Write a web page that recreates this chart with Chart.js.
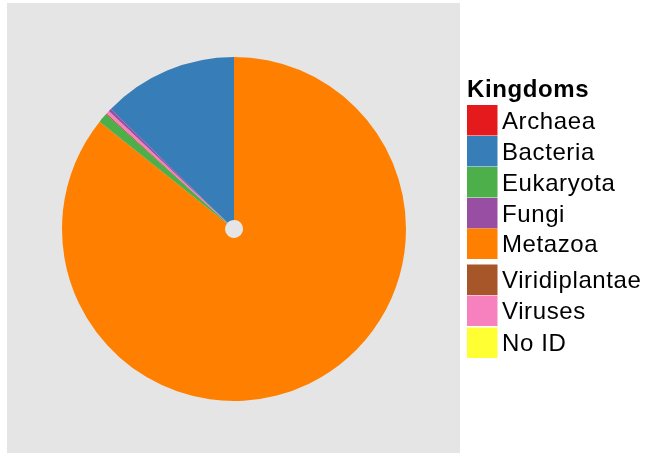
<!DOCTYPE html>
<html>
<head>
<meta charset="utf-8">
<script src="https://cdn.jsdelivr.net/npm/chart.js@4/dist/chart.umd.min.js"></script>
<style>
  html, body { margin: 0; padding: 0; background: #ffffff; }
  #wrap { width: 645px; height: 453px; }
</style>
</head>
<body>
<div id="wrap"><canvas id="pie" width="645" height="453"></canvas></div>
<script>
// Kingdom categories in legend order
const kingdoms = ['Archaea', 'Bacteria', 'Eukaryota', 'Fungi', 'Metazoa', 'Viridiplantae', 'Viruses', 'No ID'];
// Share of assigned reads per kingdom (%)
const shares = [0.02, 12.7, 0.9, 0.25, 85.73, 0.1, 0.3, 0];
// Set1 palette, one per kingdom
const colours = ['#E41A1C', '#377EB8', '#4DAF4A', '#984EA3', '#FF7F00', '#A65628', '#F781BF', '#FFFF33'];
// Order the slices are stacked clockwise from twelve o'clock
const sliceOrder = ['Metazoa', 'Eukaryota', 'Viridiplantae', 'Viruses', 'Fungi', 'Archaea', 'Bacteria', 'No ID'];
const legendTitle = 'Kingdoms';

const idx = sliceOrder.map(k => kingdoms.indexOf(k));

// Grey plotting panel behind the pie
const panel = {
  id: 'panel',
  beforeDraw(chart) {
    const ctx = chart.ctx;
    ctx.save();
    ctx.fillStyle = '#ffffff';
    ctx.fillRect(0, 0, chart.width, chart.height);
    ctx.fillStyle = '#E5E5E5';
    ctx.fillRect(7, 3, 453, 450);
    ctx.restore();
  }
};

// Key legend on the right
const keyLegend = {
  id: 'keyLegend',
  afterDraw(chart) {
    const ctx = chart.ctx;
    const tops = [105, 136, 167, 198, 228.5, 264.5, 295.5, 327.5];
    ctx.save();
    ctx.fillStyle = '#000000';
    ctx.textBaseline = 'alphabetic';
    ctx.letterSpacing = '0.6px';
    ctx.font = 'bold 24px "Liberation Sans", Arial, sans-serif';
    ctx.fillText(legendTitle, 467, 97);
    ctx.font = '24px "Liberation Sans", Arial, sans-serif';
    kingdoms.forEach((k, i) => {
      ctx.fillStyle = colours[i];
      ctx.fillRect(467, tops[i], 30.5, 30.5);
      ctx.fillStyle = '#000000';
      ctx.fillText(k, 502, tops[i] + 15 + 8.5);
    });
    ctx.restore();
  }
};

new Chart(document.getElementById('pie'), {
  type: 'doughnut',
  data: {
    labels: idx.map(i => kingdoms[i]),
    datasets: [{
      data: idx.map(i => shares[i]),
      backgroundColor: idx.map(i => colours[i]),
      borderWidth: 0,
      spacing: 0
    }]
  },
  options: {
    responsive: false,
    animation: false,
    cutout: 9,
    rotation: 0,
    layout: { padding: { left: 62, top: 57, right: 239, bottom: 52 } },
    plugins: {
      legend: { display: false },
      tooltip: { enabled: false }
    }
  },
  plugins: [panel, keyLegend]
});
</script>
</body>
</html>
